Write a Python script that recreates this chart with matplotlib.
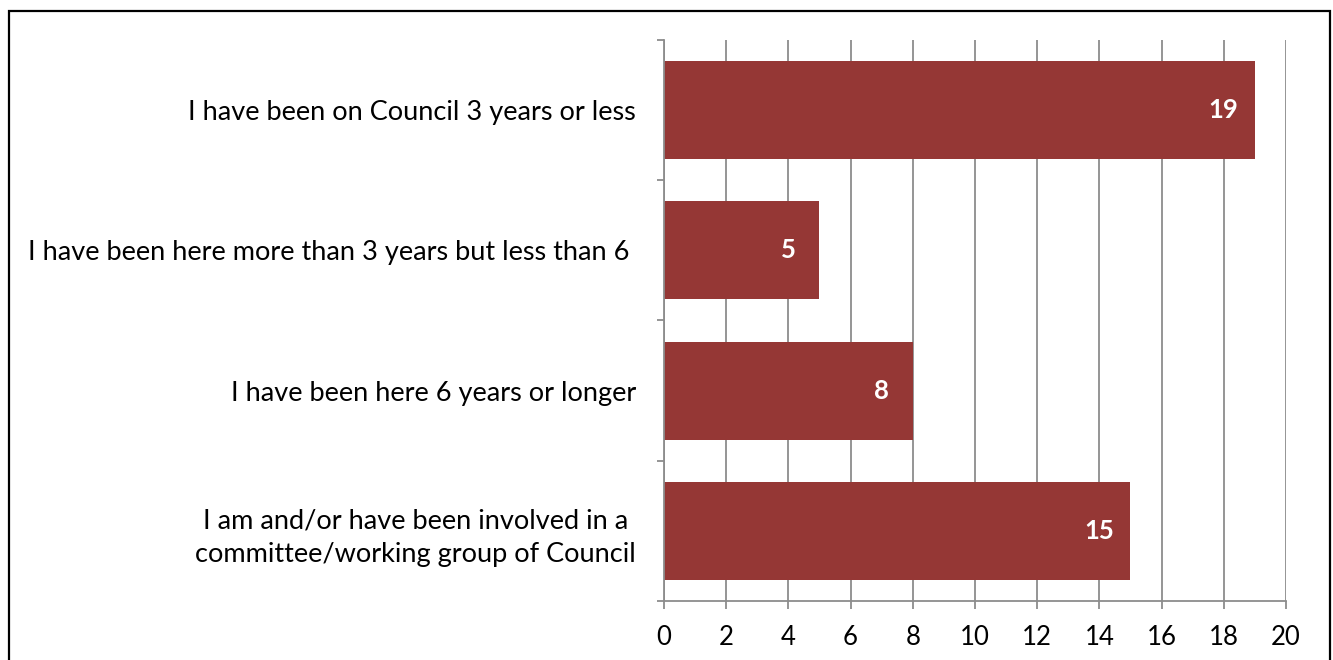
import matplotlib
matplotlib.use("Agg")
import matplotlib.pyplot as plt
from matplotlib.patches import Rectangle
import numpy as np

categories = [
    "I have been on Council 3 years or less",
    "I have been here more than 3 years but less than 6 ",
    "I have been here 6 years or longer",
    "I am and/or have been involved in a\ncommittee/working group of Council",
]
values = [19, 5, 8, 15]
x_ticks = [0, 2, 4, 6, 8, 10, 12, 14, 16, 18, 20]

bar_color = "#953735"
grid_color = "#8c8c8c"
font = ["Lato", "DejaVu Sans"]

fig = plt.figure(figsize=(13.33, 6.6), dpi=100)
ax = fig.add_axes([0.4981, 0.0894, 0.9647 - 0.4981, 0.9394 - 0.0894])

n = len(categories)
pos = np.arange(n)
ax.barh(pos, values, height=0.7, color=bar_color, zorder=3)
ax.set_ylim(n - 0.5, -0.5)
ax.set_xlim(0, 20)

for p, v in zip(pos, values):
    ax.text(v - 1.0, p, str(v), ha="center", va="center", color="white",
            fontsize=18.5, fontweight="bold", family=font, zorder=4)

ax.set_yticks(pos)
ax.set_yticklabels(categories, family=font, fontsize=19.5,
                   multialignment="center", linespacing=1.45)
ax.tick_params(axis="y", which="major", length=0, pad=20)
ax.set_yticks(np.arange(-0.5, n, 1.0), minor=True)
ax.tick_params(axis="y", which="minor", length=5, width=1.3, color=grid_color, direction="out")

ax.set_xticks(x_ticks)
ax.set_xticklabels([str(t) for t in x_ticks], family=font, fontsize=18.5)
ax.tick_params(axis="x", length=6, width=1.3, color=grid_color, direction="out", pad=11)

ax.grid(axis="x", color=grid_color, linewidth=1.3, zorder=0)
for s in ("top", "right"):
    ax.spines[s].set_visible(False)
for s in ("left", "bottom"):
    ax.spines[s].set_color(grid_color)
    ax.spines[s].set_linewidth(1.3)
    ax.spines[s].set_zorder(5)

# frame around the chart area
fig.patches.append(Rectangle((8.5 / 1333, -0.05), (1329.5 - 8.5) / 1333, 1.05 - 10.5 / 660,
                             transform=fig.transFigure, fill=False, edgecolor="black",
                             linewidth=1.6, zorder=10))

fig.savefig("out.png", dpi=100)
